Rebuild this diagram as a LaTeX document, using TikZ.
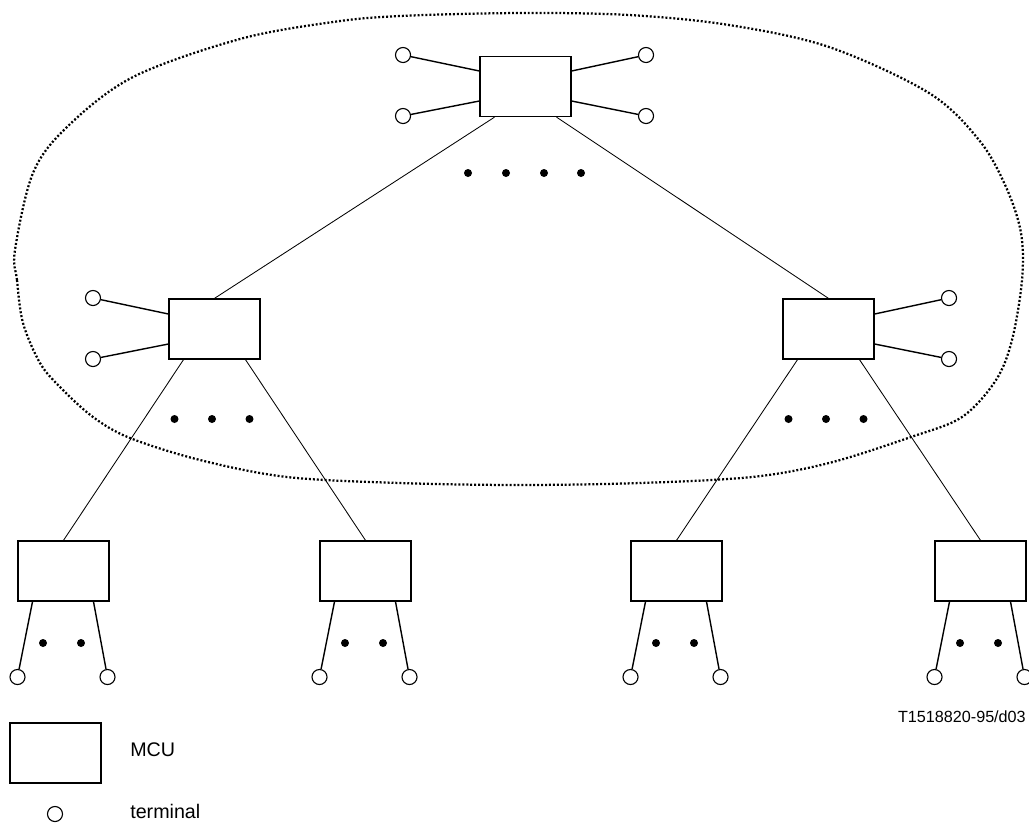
\documentclass[tikz,border=0pt]{standalone}
\usepackage{fontspec}
\setmainfont{Liberation Sans}
\tikzset{
  mcu/.style={draw, line width=0.9pt, minimum width=64.7pt, minimum height=42.7pt, inner sep=0pt},
  term/.style={draw, circle, line width=0.8pt, minimum size=10.7pt, inner sep=0pt},
  tap/.style={line width=1pt},
  link/.style={line width=0.6pt},
  zone/.style={line width=1.6pt, dash pattern=on 1.4pt off 1.4pt},
  keytext/.style={inner sep=0pt, font=\fontsize{14}{16}\selectfont},
  figcode/.style={inner sep=0pt, font=\fontsize{11.5}{13}\selectfont},
}
\begin{document}
\begin{tikzpicture}[x=0.025cm, y=-0.025cm]
\useasboundingbox (0,0) rectangle (1029,824);
\draw [zone] plot [smooth cycle, tension=0.55] coordinates {(15,250) (17,280) (23,323) (40,363) (60,387) (93,417) (130,438) (200,460) (287,477) (400,483) (520,485) (640,483) (752,477) (829,463) (911,437) (962,417) (996,380) (1012,340) (1022,280) (1021,233) (1006,187) (979,140) (929,93) (829,47) (729,25) (629,15) (520,13) (400,16) (333,22) (240,39) (133,77) (67,127) (33,173)};
\node [mcu] (top) at (525.5,86.5) {};
\node [mcu] (left) at (214.5,329) {};
\node [mcu] (right) at (828.5,329) {};
\node [mcu] (b1) at (63.5,571) {};
\node [mcu] (b2) at (365.5,571) {};
\node [mcu] (b3) at (676.5,571) {};
\node [mcu] (b4) at (980.5,571) {};
\node [term] (top-t1) at (403,55) {};
\node [term] (top-t2) at (403,116) {};
\node [term] (top-t3) at (646,55) {};
\node [term] (top-t4) at (646,116) {};
\node [term] (left-t1) at (93,298) {};
\node [term] (left-t2) at (93,359) {};
\node [term] (right-t1) at (949,298) {};
\node [term] (right-t2) at (949,359) {};
\draw [tap] ([shift={(0,-15.5)}]top.west) -- (top-t1);
\draw [tap] ([shift={(0,14.5)}]top.west) -- (top-t2);
\draw [tap] ([shift={(0,-15.5)}]top.east) -- (top-t3);
\draw [tap] ([shift={(0,14.5)}]top.east) -- (top-t4);
\draw [tap] ([shift={(0,-15)}]left.west) -- (left-t1);
\draw [tap] ([shift={(0,15)}]left.west) -- (left-t2);
\draw [tap] ([shift={(0,-15)}]right.east) -- (right-t1);
\draw [tap] ([shift={(0,15)}]right.east) -- (right-t2);
\foreach \b in {b1,b2,b3,b4} {
  \node [term] (\b-t1) at ([shift={(-46,106)}]\b.center) {};
  \node [term] (\b-t2) at ([shift={(44,106)}]\b.center) {};
  \draw [tap] ([shift={(-31,0)}]\b.south) -- (\b-t1);
  \draw [tap] ([shift={(30,0)}]\b.south) -- (\b-t2);
  \foreach \dx in {-20.5,17.5}
    \fill ([shift={(\dx,72)}]\b.center) circle (4);
}
\draw [link] ([shift={(-31,0)}]top.south) -- (left.north);
\draw [link] ([shift={(31,0)}]top.south) -- (right.north);
\draw [link] ([shift={(-31,0)}]left.south) -- (b1.north);
\draw [link] ([shift={(31,0)}]left.south) -- (b2.north);
\draw [link] ([shift={(-31,0)}]right.south) -- (b3.north);
\draw [link] ([shift={(31,0)}]right.south) -- (b4.north);
\foreach \dx in {-57.5,-19.5,18.5,55.5}
  \fill ([shift={(\dx,86.5)}]top.center) circle (4);
\foreach \dx in {-40,-2.5,35} {
  \fill ([shift={(\dx,90)}]left.center) circle (4);
  \fill ([shift={(\dx,90)}]right.center) circle (4);
}
\node [figcode, anchor=base east] (figref) at (1026,722) {T1518820-95/d03};
\node [mcu] (key-mcu) at (55.5,753) {};
\node [keytext, anchor=base west] (key-mcu-text) at (130,756) {MCU};
\node [term] (key-term) at (55,814) {};
\node [keytext, anchor=base west] (key-term-text) at (130,818) {terminal};
\end{tikzpicture}
\end{document}
